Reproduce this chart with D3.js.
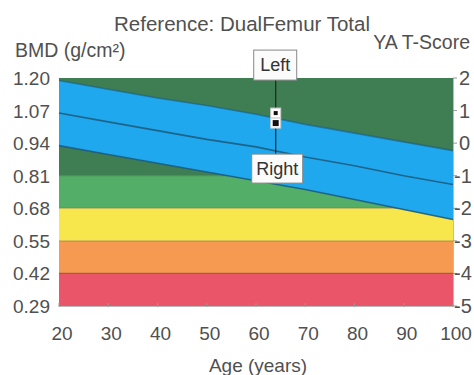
<!DOCTYPE html>
<html>
<head>
<meta charset="utf-8">
<script src="https://cdn.jsdelivr.net/npm/d3@7"></script>
<style>
  body { margin: 0; background: #fff; }
  svg text { font-family: "Liberation Sans", Arial, sans-serif; }
</style>
</head>
<body>
<svg id="chart"></svg>
<script>
let width = 474, height = 375;

// age-matched reference curve (g/cm2)
const ages = [20, 30, 40, 50, 60, 70, 80, 90, 100];
const refUpper = [1.19, 1.155, 1.12, 1.09, 1.055, 1.015, 0.98, 0.945, 0.91];
const refMean  = [1.06, 1.025, 0.99, 0.955, 0.925, 0.885, 0.85, 0.81, 0.775];
const refLower = [0.93, 0.895, 0.86, 0.825, 0.79, 0.755, 0.715, 0.675, 0.635];

// T-score zones, top to bottom
const zoneTop    = [2, -1, -2, -3, -4];
const zoneBottom = [-1, -2, -3, -4, -5];
const zoneColors = ["#3F7D52", "#53AE68", "#F7E64C", "#F69A52", "#EA5569"];

// axes
const bmdTicks = [1.20, 1.07, 0.94, 0.81, 0.68, 0.55, 0.42, 0.29];
const tTicks = [2, 1, 0, -1, -2, -3, -4, -5];
const ageTicks = [20, 30, 40, 50, 60, 70, 80, 90, 100];

// patient measurements
const sides = ["Left", "Right"];
const patientAge = [64, 64];
const patientBmd = [1.06, 1.02];

const margin = {top: 78, right: 21, bottom: 69, left: 59};
const svg = d3.select("#chart").attr("width", width).attr("height", height);

let x = d3.scaleLinear().domain([20, 100]).range([margin.left, width - margin.right]);
let y = d3.scaleLinear().domain([0.29, 1.20]).range([height - margin.bottom, margin.top]);
let yT = d3.scaleLinear().domain([-5, 2]).range([height - margin.bottom, margin.top]);

const textColor = "#505050";

// zones
svg.append("g")
  .selectAll("rect")
  .data(zoneTop)
  .join("rect")
  .attr("x", x(20))
  .attr("width", x(100) - x(20))
  .attr("y", d => yT(d))
  .attr("height", (d, i) => yT(zoneBottom[i]) - yT(d))
  .attr("fill", (d, i) => zoneColors[i]);

// zone boundary lines
svg.append("g")
  .selectAll("line")
  .data(zoneBottom.slice(0, 4))
  .join("line")
  .attr("x1", x(20)).attr("x2", x(100))
  .attr("y1", d => yT(d)).attr("y2", d => yT(d))
  .attr("stroke", "#000")
  .attr("stroke-opacity", (d, i) => i == 3 ? 0.35 : 0.18)
  .attr("stroke-width", 1.2);

// reference band
const band = d3.area()
  .x((d, i) => x(ages[i]))
  .y0((d, i) => y(refLower[i]))
  .y1((d, i) => y(refUpper[i]));

svg.append("path")
  .datum(ages)
  .attr("d", band)
  .attr("fill", "#1FA8EE");

const line = arr => d3.line().x((d, i) => x(ages[i])).y((d, i) => y(arr[i]))(ages);

[refUpper, refMean, refLower].forEach((arr, k) => {
  svg.append("path")
    .attr("d", line(arr))
    .attr("fill", "none")
    .attr("stroke", "#1D5C80")
    .attr("stroke-opacity", k == 0 ? 0.6 : 0.9)
    .attr("stroke-width", 1.6);
});

// axis lines
svg.append("line")
  .attr("x1", x(20)).attr("x2", x(100))
  .attr("y1", y(0.29) + 0.5).attr("y2", y(0.29) + 0.5)
  .attr("stroke", "#bbb");
svg.append("line")
  .attr("x1", x(100) + 0.5).attr("x2", x(100) + 0.5)
  .attr("y1", y(1.20)).attr("y2", y(0.29))
  .attr("stroke", "#bbb");

// x ticks
svg.append("g")
  .selectAll("line")
  .data(ageTicks)
  .join("line")
  .attr("x1", d => x(d)).attr("x2", d => x(d))
  .attr("y1", y(0.29) - 3).attr("y2", y(0.29) + 1)
  .attr("stroke", "#999");

svg.append("g")
  .selectAll("text")
  .data(ageTicks)
  .join("text")
  .attr("x", d => x(d) + 3)
  .attr("y", 340)
  .attr("text-anchor", "middle")
  .attr("font-size", 19)
  .attr("fill", textColor)
  .text(d => d);

// left ticks
svg.append("g")
  .selectAll("text")
  .data(bmdTicks)
  .join("text")
  .attr("x", 50)
  .attr("y", d => y(d) + 7)
  .attr("text-anchor", "end")
  .attr("font-size", 19)
  .attr("fill", textColor)
  .text(d => d3.format(".2f")(d));

// right ticks
svg.append("g")
  .selectAll("line")
  .data(tTicks)
  .join("line")
  .attr("x1", x(100)).attr("x2", x(100) + 4)
  .attr("y1", d => yT(d)).attr("y2", d => yT(d))
  .attr("stroke", "#999");

svg.append("g")
  .selectAll("text")
  .data(tTicks)
  .join("text")
  .attr("x", d => d < 0 ? x(100) + 1 : x(100) + 6)
  .attr("y", d => yT(d) + 7)
  .attr("text-anchor", "start")
  .attr("font-size", 20)
  .attr("fill", textColor)
  .text(d => d);

// titles
svg.append("text")
  .attr("x", 242).attr("y", 31)
  .attr("text-anchor", "middle")
  .attr("font-size", 20.5)
  .attr("fill", textColor)
  .text("Reference: DualFemur Total");

svg.append("text")
  .attr("x", 15).attr("y", 57)
  .attr("font-size", 19.5)
  .attr("fill", textColor)
  .text("BMD (g/cm²)");

svg.append("text")
  .attr("x", 470).attr("y", 49)
  .attr("text-anchor", "end")
  .attr("font-size", 19.5)
  .attr("fill", textColor)
  .text("YA T-Score");

svg.append("text")
  .attr("x", 258).attr("y", 372)
  .attr("text-anchor", "middle")
  .attr("font-size", 19)
  .attr("fill", textColor)
  .text("Age (years)");

// patient markers with labels
const mx = x(patientAge[0]);
const yTop = y(patientBmd[0]), yBot = y(patientBmd[1]);
const leftBox = {x: mx - 22, y: yTop - 63, w: 43, h: 30};
const rightBox = {x: mx - 24, y: yBot + 31, w: 51, h: 29};

svg.append("line")
  .attr("x1", mx).attr("x2", mx)
  .attr("y1", leftBox.y + leftBox.h).attr("y2", rightBox.y)
  .attr("stroke", "#222")
  .attr("stroke-width", 1.2);

[leftBox, rightBox].forEach((b, i) => {
  svg.append("rect")
    .attr("x", b.x).attr("y", b.y)
    .attr("width", b.w).attr("height", b.h)
    .attr("fill", "#fbfbfb")
    .attr("stroke", "#888");
  svg.append("text")
    .attr("x", b.x + b.w / 2).attr("y", b.y + b.h / 2 + 6)
    .attr("text-anchor", "middle")
    .attr("font-size", 18)
    .attr("fill", "#333")
    .text(sides[i]);
});

svg.append("g")
  .selectAll("rect")
  .data(patientBmd)
  .join("rect")
  .attr("x", (d, i) => x(patientAge[i]) - 5)
  .attr("y", d => y(d) - 5)
  .attr("width", 10).attr("height", 10)
  .attr("fill", "#fff")
  .attr("stroke", "#ccc");

svg.append("g")
  .selectAll("rect")
  .data(patientBmd)
  .join("rect")
  .attr("x", (d, i) => x(patientAge[i]) - (i == 0 ? 2 : 3))
  .attr("y", (d, i) => y(d) - (i == 0 ? 2 : 3))
  .attr("width", (d, i) => i == 0 ? 4 : 6)
  .attr("height", (d, i) => i == 0 ? 4 : 6)
  .attr("fill", "#111");
</script>
</body>
</html>
